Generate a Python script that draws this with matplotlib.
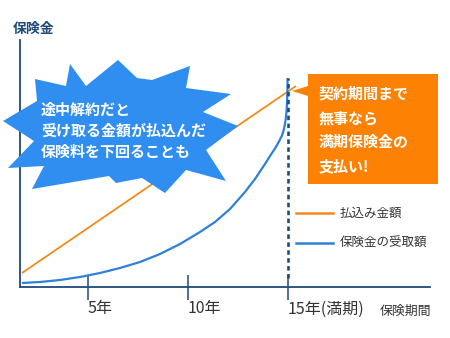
import matplotlib
matplotlib.use("Agg")
import matplotlib.pyplot as plt
from matplotlib.patches import Polygon
from matplotlib.lines import Line2D
import matplotlib.transforms as mtrans

plt.rcParams['font.family'] = ['Noto Sans CJK JP', 'DejaVu Sans']

# ---- data ----
pay_years = [1.7, 15.4]
pay_values = [14, 201]
recv_years = [1.70, 2.60, 3.60, 4.60, 5.60, 6.60, 7.60, 8.60, 9.60, 10.60,
              11.35, 12.10, 12.85, 13.35, 13.85, 14.10, 14.35, 14.55, 14.70,
              14.80, 14.875, 14.925, 14.95, 14.97, 14.98]
recv_values = [4, 5, 7, 10, 14, 19, 25, 33, 43, 55,
               65, 78, 95, 108, 123, 131, 138.5, 145.5, 151.5,
               158, 166, 175, 184, 197, 209]
tick_years = [5, 10, 15]
tick_labels = ['5年', '10年', '15年(満期)']
maturity_year = 15
series_labels = ['払込み金額', '保険金の受取額']
y_title = '保険金'
x_title = '保険期間'
burst_lines = ['途中解約だと', '受け取る金額が払込んだ', '保険料を下回ることも']
box_lines = ['契約期間まで', '無事なら', '満期保険金の', '支払い!']

NAVY = '#1f4a7c'
ORANGE = '#f28a1a'
BLUE = '#2f80d8'
BURST = '#2f8ef0'
BOX = '#fd8204'
GRAY = '#333333'

W, H = 450, 338
fig = plt.figure(figsize=(W / 100, H / 100), dpi=100)
ax = fig.add_axes([0, 0, 1, 1])
ax.set_xlim(0.6, 23.1)
ax.set_ylim(-51, 287)
ax.patch.set_alpha(0)

# pixel transform (x right, y down)
px = mtrans.Affine2D().scale(1 / W, -1 / H).translate(0, 1) + fig.transFigure

# axes lines
for s in ['top', 'right']:
    ax.spines[s].set_visible(False)
ax.spines['left'].set_position(('data', 1.6))
ax.spines['bottom'].set_position(('data', 0))
ax.spines['left'].set_bounds(0, 247)
ax.spines['bottom'].set_bounds(1.6, 22.1)
for s in ['left', 'bottom']:
    ax.spines[s].set_color(NAVY)
    ax.spines[s].set_linewidth(1.3)
ax.set_yticks([])
ax.set_xticks(tick_years)
ax.set_xticklabels([])
ax.tick_params(axis='x', direction='inout', length=18, width=1.1, color=NAVY)

# series
ax.plot(pay_years, pay_values, color=ORANGE, lw=1.3, zorder=3, solid_capstyle='butt')
ax.plot(recv_years, recv_values, color=BLUE, lw=1.6, zorder=3,
        solid_joinstyle='round', solid_capstyle='butt')
ax.plot([maturity_year, maturity_year], [9, max(recv_values)], color=NAVY, lw=1.9,
        linestyle=(0, (1.7, 1.3)), zorder=4)

# tick labels
for t, lab in zip(tick_years, tick_labels):
    ax.text(t, -22, lab, ha='left', va='center', fontsize=11.5, color=GRAY)
ax.text(380, 311, x_title, transform=px, ha='left', va='center', fontsize=9.3, color=GRAY)
ax.text(13, 29, y_title, transform=px, ha='left', va='center', fontsize=10,
        color=NAVY, fontweight='bold')

# starburst
burst = [(3, 121), (37, 101), (35, 79), (66, 86), (70, 64), (86, 86), (118, 60),
         (137, 78), (152, 80), (190, 66), (186, 88), (231, 94), (203, 112),
         (238, 126), (206, 150), (226, 181), (186, 170), (165, 193), (142, 178),
         (116, 183), (109, 176), (32, 189), (44, 166), (8, 168), (34, 141)]
ax.add_patch(Polygon(burst, closed=True, transform=px, facecolor=BURST,
                     edgecolor='none', zorder=5))
for i, line in enumerate(burst_lines):
    ax.text(41, 110 + 21 * i, line, transform=px, ha='left', va='center',
            fontsize=10.8, color='white', fontweight='bold', zorder=6)

# orange box with pointer
box = [(308, 74), (438, 74), (438, 184), (308, 184), (308, 96), (292, 91), (308, 86)]
ax.add_patch(Polygon(box, closed=True, transform=px, facecolor=BOX,
                     edgecolor='none', zorder=5))
for i, line in enumerate(box_lines):
    ax.text(319, 94 + 24 * i, line, transform=px, ha='left', va='center',
            fontsize=10.8, color='white', fontweight='bold', zorder=6)

# legend
for i, (lab, col) in enumerate(zip(series_labels, [ORANGE, BLUE])):
    y = 213 + 30 * i
    ax.add_line(Line2D([296, 333], [y, y], transform=px, color=col, lw=1.8))
    ax.text(340, y, lab, transform=px, ha='left', va='center', fontsize=9, color=GRAY)

fig.savefig('out.png', dpi=100)
